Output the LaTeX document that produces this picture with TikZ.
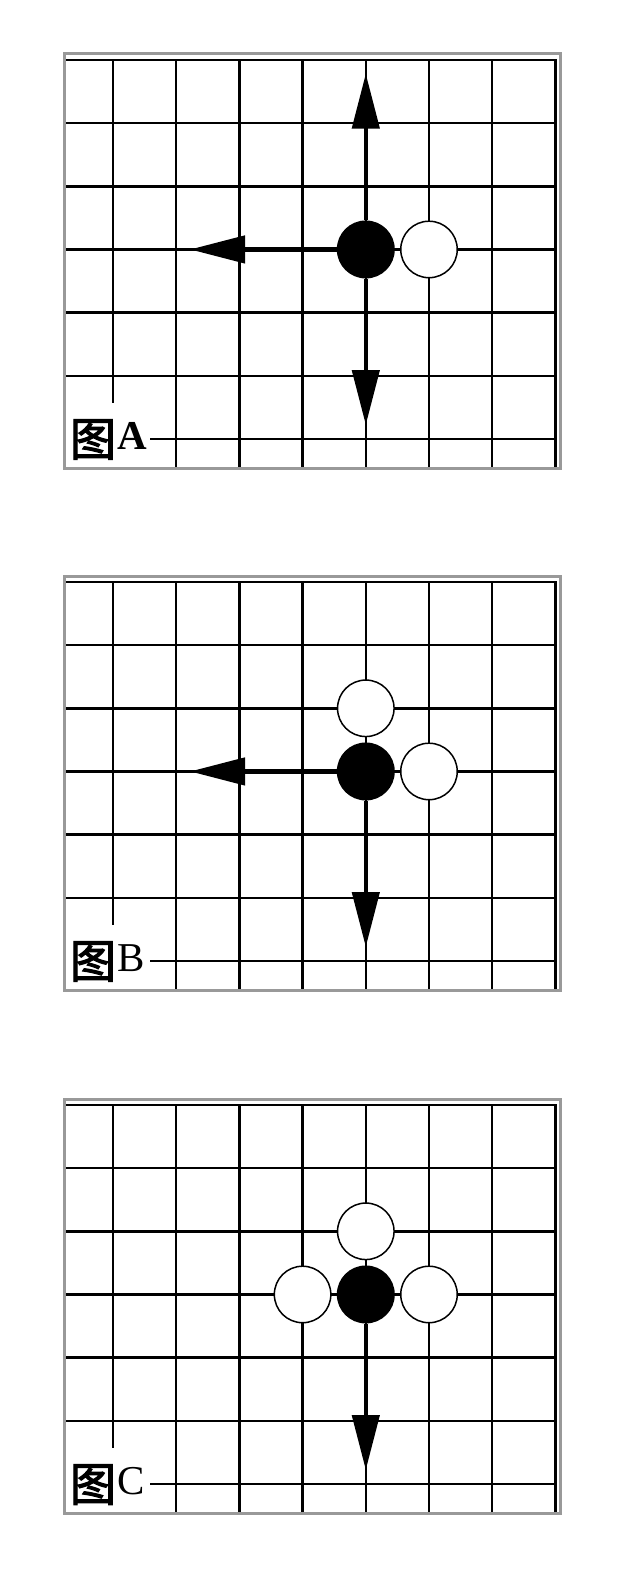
\documentclass[tikz,border=0pt]{standalone}
\usepackage{fontspec}
\setmainfont{Liberation Serif}
\newfontfamily\cjkfont[FakeBold=2.5]{Noto Sans CJK SC}
\usetikzlibrary{arrows.meta}
\newcommand{\drawboard}{%
  \foreach \k in {0,...,5} \draw[gridline] (66,{6+63.15*\k}) -- (555.4,{6+63.15*\k});
  \draw[gridline] (151,384.9) -- (555.4,384.9);
  \draw[gridline] (113,6) -- (113,348);
  \foreach \k in {1,...,7} \draw[gridline] ({113+63.2*\k},6) -- ({113+63.2*\k},412.5);
  \draw[frameline] (64.7,0) rectangle (560,414);
}
\begin{document}
\begin{tikzpicture}[x=1pt,y=-1pt,
  gridline/.style={line width=2.5pt,black,line cap=rect},
  frameline/.style={line width=3pt,color=black!40},
  blackstone/.style={circle,fill=black,minimum size=58pt,inner sep=0pt},
  whitestone/.style={circle,fill=white,draw=black,line width=1.5pt,minimum size=56.5pt,inner sep=0pt},
  move/.style={line width=4.5pt,-{Triangle[length=55pt,width=27pt]}},
  boardlabel/.style={inner sep=0pt,anchor=base west,font=\fontsize{41}{45}\selectfont},
  tulabel/.style={inner sep=0pt,font=\cjkfont\fontsize{46}{50}\selectfont}]
\useasboundingbox[fill=white] (0,0) rectangle (631,1587);

% ---------- Panel A ----------
\begin{scope}[shift={(0,54)}]
  \drawboard
  \coordinate (aUp) at (365.8,19.6);
  \coordinate (aLeft) at (190,195.45);
  \coordinate (aDown) at (365.8,371);
  \node[blackstone] (bA) at (365.8,195.45) {};
  \node[whitestone] (wA1) at (429,195.45) {};
  \draw[move] (bA) -- (aUp);
  \draw[move] (bA) -- (aLeft);
  \draw[move] (bA) -- (aDown);
  \node[tulabel] (tuA) at (93,385.5) {图};
  \node[boardlabel] (labA) at (117,395) {\bfseries A};
\end{scope}

% ---------- Panel B ----------
\begin{scope}[shift={(0,576)}]
  \drawboard
  \coordinate (bLeft) at (190,195.45);
  \coordinate (bDown) at (365.8,371);
  \node[blackstone] (bB) at (365.8,195.45) {};
  \node[whitestone] (wB1) at (429,195.45) {};
  \node[whitestone] (wB2) at (365.8,132.3) {};
  \draw[move] (bB) -- (bLeft);
  \draw[move] (bB) -- (bDown);
  \node[tulabel] (tuB) at (93,385.5) {图};
  \node[boardlabel] (labB) at (117,395) {B};
\end{scope}

% ---------- Panel C ----------
\begin{scope}[shift={(0,1099)}]
  \drawboard
  \coordinate (cDown) at (365.8,371);
  \node[blackstone] (bC) at (365.8,195.45) {};
  \node[whitestone] (wC1) at (429,195.45) {};
  \node[whitestone] (wC2) at (365.8,132.3) {};
  \node[whitestone] (wC3) at (302.6,195.45) {};
  \draw[move] (bC) -- (cDown);
  \node[tulabel] (tuC) at (93,385.5) {图};
  \node[boardlabel] (labC) at (117,395) {C};
\end{scope}
\end{tikzpicture}
\end{document}
